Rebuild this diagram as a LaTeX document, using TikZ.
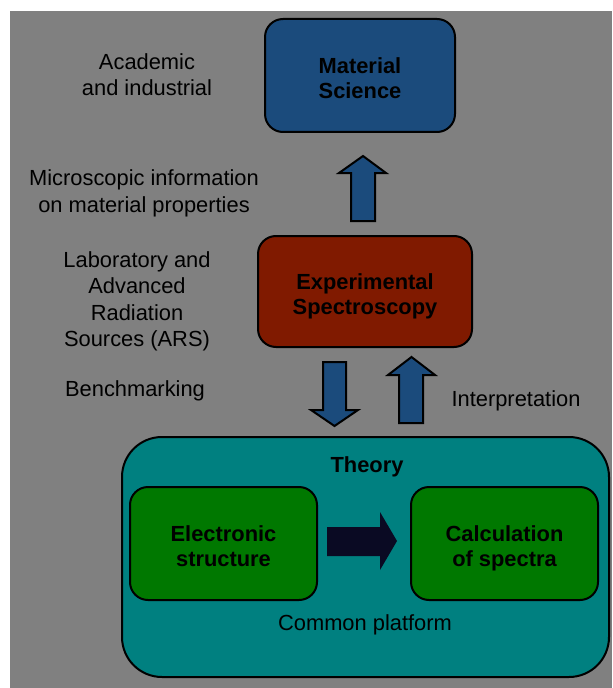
\documentclass[tikz,border=0pt]{standalone}
\usepackage{fontspec}
\setmainfont{Liberation Sans}
\usetikzlibrary{positioning}

\definecolor{bgGrey}{RGB}{128,128,128}
\definecolor{matBlue}{RGB}{27,75,124}
\definecolor{specRed}{RGB}{128,26,0}
\definecolor{theoTeal}{RGB}{0,128,128}
\definecolor{calcGreen}{RGB}{0,120,0}
\definecolor{darkNavy}{RGB}{10,10,35}

\tikzset{every picture/.style={line width=0.75pt}}
\tikzset{
  plaintext/.style={inner sep=0pt, align=center, font=\fontsize{16.4}{19.8}\selectfont},
  boldtext/.style={inner sep=0pt, align=center, font=\fontsize{16.4}{18.4}\selectfont\bfseries},
  roundbox/.style={draw=black, line width=1.5pt, rounded corners=13.5pt, inner sep=0pt, align=center, font=\fontsize{16.4}{18.4}\selectfont\bfseries},
  lowtext/.style={text height=34pt, text depth=0pt},
  blockarrow/.style={draw=black, line width=1.5pt, fill=matBlue, line join=miter},
}

\begin{document}
\begin{tikzpicture}[x=0.75pt,y=0.75pt,yscale=-1,xscale=1]
%set diagram size to 612 x 688
\fill[white] (0,0) rectangle (612,688);
\fill[bgGrey] (10,11) rectangle (612,688);
\useasboundingbox (0,0) rectangle (612,688);

%Boxes
\node[roundbox, fill=matBlue, minimum width=142.5pt, minimum height=84.75pt, lowtext] (matsci) at (360,75.5) {Material\\Science};
\node[roundbox, fill=specRed, minimum width=160.5pt, minimum height=83.25pt, lowtext] (spec) at (365,291.5) {Experimental\\Spectroscopy};
\node[roundbox, fill=theoTeal, rounded corners=30pt, minimum width=365.25pt, minimum height=180pt] (theory) at (365.5,557) {};
\node[roundbox, fill=calcGreen, minimum width=140.25pt, minimum height=84.75pt, lowtext] (elec) at (223.5,543.5) {Electronic\\structure};
\node[roundbox, fill=calcGreen, minimum width=140.25pt, minimum height=84.75pt, lowtext] (calc) at (504.5,543.5) {Calculation\\of spectra};

%Block arrows
\draw[blockarrow] (351,221) -- (351,173) -- (339,173) -- (363,156) -- (386,173) -- (375,173) -- (375,221) -- cycle;
\draw[blockarrow] (323,362) -- (323,410) -- (311,410) -- (334.5,426) -- (358,410) -- (346,410) -- (346,362) -- cycle;
\draw[blockarrow] (399,423) -- (399,375) -- (388,375) -- (411.5,357) -- (435,375) -- (423,375) -- (423,423) -- cycle;
\fill[darkNavy] (327,527) -- (380,527) -- (380,512) -- (397,541) -- (380,570) -- (380,556) -- (327,556) -- cycle;

% Text Node
\node[plaintext] (acad) at (147,74.5) {Academic\\and industrial};
% Text Node
\node[plaintext] (micro) at (144,193.5) {Microscopic information\\on material properties};
% Text Node
\node[plaintext] (lab) at (137,301.5) {Laboratory and\\Advanced\\Radiation\\Sources (ARS)};
% Text Node
\node[plaintext] (bench) at (135,391) {Benchmarking};
% Text Node
\node[plaintext] (interp) at (516,401) {Interpretation};
% Text Node
\node[boldtext] (theolabel) at (367,467) {Theory};
% Text Node
\node[plaintext] (common) at (365,625) {Common platform};

\end{tikzpicture}
\end{document}
